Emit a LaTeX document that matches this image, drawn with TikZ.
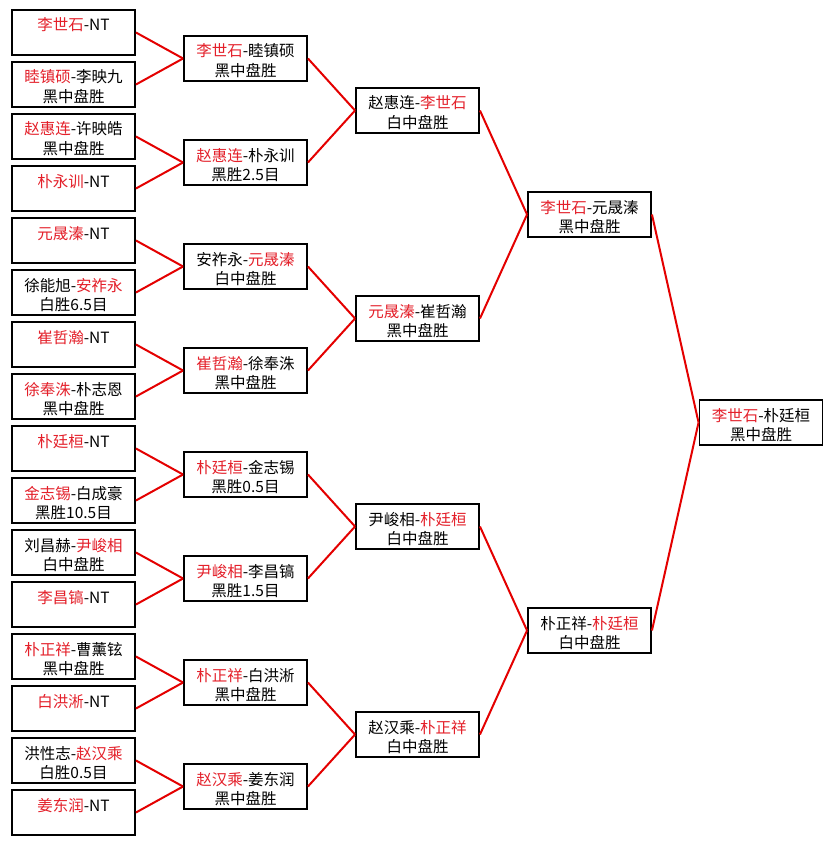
\documentclass[tikz,border=0pt]{standalone}
\usepackage{fontspec}
\setmainfont{Noto Sans CJK SC}
\definecolor{nred}{RGB}{228,32,42}
\definecolor{lred}{RGB}{228,0,0}
\newcommand{\R}[1]{\textcolor{nred}{#1}}
% box with two text lines: name, x centre, y top, line1, line2
\newcommand{\mbx}[5]{%
  \node[mbox] (#1) at (#2,#3+22.5) {};
  \node[txt] (#1-a) at (#2,#3+21) {#4};
  \node[txt] (#1-b) at (#2,#3+40.5) {#5};
}
% box with one text line at the top
\newcommand{\mbn}[4]{%
  \node[mbox] (#1) at (#2,#3+22.5) {};
  \node[txt] (#1-a) at (#2,#3+21) {#4};
}
\begin{document}
\begin{tikzpicture}[x=1pt,y=-1pt,
  mbox/.style={draw=black, line width=1.9pt, minimum width=123pt, minimum height=45pt, inner sep=0pt, fill=white},
  txt/.style={anchor=base, inner sep=0pt, font=\fontsize{15.5}{20}\selectfont},
  link/.style={draw=lred, line width=2pt}]
\useasboundingbox (0,0) rectangle (833,845);
\fill[white] (0,0) rectangle (833,845);

% column 1
\mbn{c1-1}{73.5}{10}{\R{李世石}-NT}
\mbx{c1-2}{73.5}{62}{\R{睦镇硕}-李映九}{黑中盘胜}
\mbx{c1-3}{73.5}{114}{\R{赵惠连}-许映皓}{黑中盘胜}
\mbn{c1-4}{73.5}{166}{\R{朴永训}-NT}
\mbn{c1-5}{73.5}{218}{\R{元晟溱}-NT}
\mbx{c1-6}{73.5}{270}{徐能旭-\R{安祚永}}{白胜6.5目}
\mbn{c1-7}{73.5}{322}{\R{崔哲瀚}-NT}
\mbx{c1-8}{73.5}{374}{\R{徐奉洙}-朴志恩}{黑中盘胜}
\mbn{c1-9}{73.5}{426}{\R{朴廷桓}-NT}
\mbx{c1-10}{73.5}{478}{\R{金志锡}-白成豪}{黑胜10.5目}
\mbx{c1-11}{73.5}{530}{刘昌赫-\R{尹峻相}}{白中盘胜}
\mbn{c1-12}{73.5}{582}{\R{李昌镐}-NT}
\mbx{c1-13}{73.5}{634}{\R{朴正祥}-曹薰铉}{黑中盘胜}
\mbn{c1-14}{73.5}{686}{\R{白洪淅}-NT}
\mbx{c1-15}{73.5}{738}{洪性志-\R{赵汉乘}}{白胜0.5目}
\mbn{c1-16}{73.5}{790}{\R{姜东润}-NT}

% column 2
\mbx{c2-1}{245.5}{36}{\R{李世石}-睦镇硕}{黑中盘胜}
\mbx{c2-2}{245.5}{140}{\R{赵惠连}-朴永训}{黑胜2.5目}
\mbx{c2-3}{245.5}{244}{安祚永-\R{元晟溱}}{白中盘胜}
\mbx{c2-4}{245.5}{348}{\R{崔哲瀚}-徐奉洙}{黑中盘胜}
\mbx{c2-5}{245.5}{452}{\R{朴廷桓}-金志锡}{黑胜0.5目}
\mbx{c2-6}{245.5}{556}{\R{尹峻相}-李昌镐}{黑胜1.5目}
\mbx{c2-7}{245.5}{660}{\R{朴正祥}-白洪淅}{黑中盘胜}
\mbx{c2-8}{245.5}{764}{\R{赵汉乘}-姜东润}{黑中盘胜}

% column 3
\mbx{c3-1}{417.5}{88}{赵惠连-\R{李世石}}{白中盘胜}
\mbx{c3-2}{417.5}{296}{\R{元晟溱}-崔哲瀚}{黑中盘胜}
\mbx{c3-3}{417.5}{504}{尹峻相-\R{朴廷桓}}{白中盘胜}
\mbx{c3-4}{417.5}{712}{赵汉乘-\R{朴正祥}}{白中盘胜}

% column 4
\mbx{c4-1}{589.5}{192}{\R{李世石}-元晟溱}{黑中盘胜}
\mbx{c4-2}{589.5}{608}{朴正祥-\R{朴廷桓}}{白中盘胜}

% column 5
\mbx{c5-1}{761}{400}{\R{李世石}-朴廷桓}{黑中盘胜}

% connectors
\foreach \i in {1,...,16} {
  \pgfmathtruncatemacro\j{(\i+1)/2}
  \draw[link] (c1-\i.east) -- (c2-\j.west);
}
\foreach \i in {1,...,8} {
  \pgfmathtruncatemacro\j{(\i+1)/2}
  \draw[link] (c2-\i.east) -- (c3-\j.west);
}
\foreach \i in {1,...,4} {
  \pgfmathtruncatemacro\j{(\i+1)/2}
  \draw[link] (c3-\i.east) -- (c4-\j.west);
}
\foreach \i in {1,2} {
  \draw[link] (c4-\i.east) -- (c5-1.west);
}
\end{tikzpicture}
\end{document}
